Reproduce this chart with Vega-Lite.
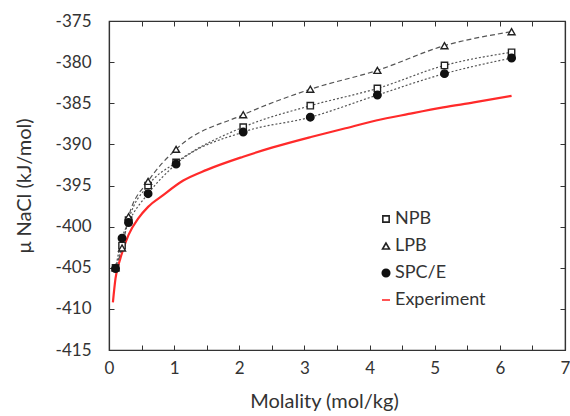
{
  "$schema": "https://vega.github.io/schema/vega-lite/v6.json",
  "width": 456,
  "height": 329,
  "autosize": {"type": "none"},
  "padding": {"left": 109, "top": 21, "right": 5, "bottom": 66},
  "background": "white",
  "config": {
    "font": "Lato",
    "view": {"stroke": "#333", "strokeWidth": 1.2},
    "axis": {
      "grid": false,
      "domainColor": "#333",
      "domainWidth": 1.2,
      "tickColor": "#333",
      "tickWidth": 1,
      "tickSize": -5,
      "labelFlush": false,
      "labelFontSize": 17,
      "labelColor": "#333",
      "titleFontSize": 20,
      "titleFontWeight": "normal",
      "titleColor": "#333"
    },
    "legend": {
      "orient": "none",
      "legendX": 268,
      "legendY": 189,
      "title": null,
      "labelFontSize": 18,
      "labelColor": "#333",
      "labelOffset": 0,
      "rowPadding": 9,
      "symbolStrokeWidth": 1.6,
      "padding": 0
    }
  },
  "datasets": {
    "sim": [
      {"m": 0.1, "mu": -405.0, "series": "NPB"},
      {"m": 0.2, "mu": -402.3, "series": "NPB"},
      {"m": 0.3, "mu": -399.2, "series": "NPB"},
      {"m": 0.6, "mu": -395.0, "series": "NPB"},
      {"m": 1.03, "mu": -392.2, "series": "NPB"},
      {"m": 2.06, "mu": -387.9, "series": "NPB"},
      {"m": 3.09, "mu": -385.3, "series": "NPB"},
      {"m": 4.12, "mu": -383.2, "series": "NPB"},
      {"m": 5.15, "mu": -380.4, "series": "NPB"},
      {"m": 6.18, "mu": -378.8, "series": "NPB"},
      {"m": 0.1, "mu": -405.0, "series": "LPB"},
      {"m": 0.2, "mu": -402.6, "series": "LPB"},
      {"m": 0.3, "mu": -398.8, "series": "LPB"},
      {"m": 0.6, "mu": -394.5, "series": "LPB"},
      {"m": 1.03, "mu": -390.6, "series": "LPB"},
      {"m": 2.06, "mu": -386.4, "series": "LPB"},
      {"m": 3.09, "mu": -383.3, "series": "LPB"},
      {"m": 4.12, "mu": -381.0, "series": "LPB"},
      {"m": 5.15, "mu": -378.0, "series": "LPB"},
      {"m": 6.18, "mu": -376.3, "series": "LPB"},
      {"m": 0.1, "mu": -405.1, "series": "SPC/E"},
      {"m": 0.2, "mu": -401.4, "series": "SPC/E"},
      {"m": 0.3, "mu": -399.5, "series": "SPC/E"},
      {"m": 0.6, "mu": -396.0, "series": "SPC/E"},
      {"m": 1.03, "mu": -392.4, "series": "SPC/E"},
      {"m": 2.06, "mu": -388.5, "series": "SPC/E"},
      {"m": 3.09, "mu": -386.7, "series": "SPC/E"},
      {"m": 4.12, "mu": -384.0, "series": "SPC/E"},
      {"m": 5.15, "mu": -381.4, "series": "SPC/E"},
      {"m": 6.18, "mu": -379.5, "series": "SPC/E"}
    ],
    "exp": [
      {"m": 0.06, "mu": -409.2, "series": "Experiment"},
      {"m": 0.1, "mu": -406.3, "series": "Experiment"},
      {"m": 0.17, "mu": -404.0, "series": "Experiment"},
      {"m": 0.3, "mu": -401.0, "series": "Experiment"},
      {"m": 0.45, "mu": -399.0, "series": "Experiment"},
      {"m": 0.6, "mu": -397.6, "series": "Experiment"},
      {"m": 0.81, "mu": -396.3, "series": "Experiment"},
      {"m": 1.14, "mu": -394.4, "series": "Experiment"},
      {"m": 1.5, "mu": -393.1, "series": "Experiment"},
      {"m": 2.06, "mu": -391.5, "series": "Experiment"},
      {"m": 2.5, "mu": -390.4, "series": "Experiment"},
      {"m": 3.1, "mu": -389.1, "series": "Experiment"},
      {"m": 3.6, "mu": -388.1, "series": "Experiment"},
      {"m": 4.1, "mu": -387.1, "series": "Experiment"},
      {"m": 4.6, "mu": -386.3, "series": "Experiment"},
      {"m": 5.13, "mu": -385.5, "series": "Experiment"},
      {"m": 5.6, "mu": -384.9, "series": "Experiment"},
      {"m": 6.18, "mu": -384.1, "series": "Experiment"}
    ]
  },
  "resolve": {"axis": {"x": "independent", "y": "independent"}},
  "layer": [
    {
      "data": {"name": "exp"},
      "mark": {"type": "line", "strokeWidth": 2.2, "interpolate": "monotone"},
      "encoding": {
        "x": {
          "field": "m", "type": "quantitative",
          "scale": {"domain": [0, 7], "nice": false, "zero": false, "padding": 0},
          "axis": {
            "orient": "bottom",
            "values": [0, 0.5, 1, 1.5, 2, 2.5, 3, 3.5, 4, 4.5, 5, 5.5, 6, 6.5, 7],
            "labelExpr": "datum.value % 1 === 0 ? format(datum.value, 'd') : ''",
            "labelPadding": 15,
            "title": "Molality (mol/kg)",
            "titlePadding": 15,
            "titleX": 215
          }
        },
        "y": {
          "field": "mu", "type": "quantitative",
          "scale": {"domain": [-415, -375], "nice": false, "zero": false, "padding": 0},
          "axis": {
            "orient": "left",
            "values": [-415, -410, -405, -400, -395, -390, -385, -380, -375],
            "labelExpr": "'-' + format(abs(datum.value), 'd')",
            "labelPadding": 23,
            "title": "μ NaCl (kJ/mol)",
            "titlePadding": 21
          }
        },
        "stroke": {
          "field": "series", "type": "nominal",
          "scale": {"domain": ["NPB", "LPB", "SPC/E", "Experiment"], "range": ["#222", "#222", "#111", "#ff2a2a"]}
        }
      }
    },
    {
      "data": {"name": "sim"},
      "transform": [{"filter": "datum.series === 'LPB'"}],
      "mark": {"type": "line", "stroke": "#555", "strokeWidth": 1.2, "strokeDash": [5, 3], "interpolate": "monotone"},
      "encoding": {
        "x": {"field": "m", "type": "quantitative", "scale": {"domain": [0, 7], "nice": false, "zero": false, "padding": 0}, "axis": null},
        "y": {"field": "mu", "type": "quantitative", "scale": {"domain": [-415, -375], "nice": false, "zero": false, "padding": 0}, "axis": null}
      }
    },
    {
      "data": {"name": "sim"},
      "transform": [{"filter": "datum.series !== 'LPB'"}],
      "mark": {"type": "line", "stroke": "#555", "strokeWidth": 1.2, "strokeDash": [2, 2], "interpolate": "monotone"},
      "encoding": {
        "x": {"field": "m", "type": "quantitative", "scale": {"domain": [0, 7], "nice": false, "zero": false, "padding": 0}, "axis": null},
        "y": {"field": "mu", "type": "quantitative", "scale": {"domain": [-415, -375], "nice": false, "zero": false, "padding": 0}, "axis": null},
        "detail": {"field": "series", "type": "nominal"}
      }
    },
    {
      "data": {"name": "sim"},
      "mark": {"type": "point", "strokeWidth": 1.4, "opacity": 1},
      "encoding": {
        "x": {
          "field": "m", "type": "quantitative",
          "scale": {"domain": [0, 7], "nice": false, "zero": false, "padding": 0},
          "axis": {
            "orient": "top",
            "values": [0, 0.5, 1, 1.5, 2, 2.5, 3, 3.5, 4, 4.5, 5, 5.5, 6, 6.5, 7],
            "labels": false,
            "title": null
          }
        },
        "y": {
          "field": "mu", "type": "quantitative",
          "scale": {"domain": [-415, -375], "nice": false, "zero": false, "padding": 0},
          "axis": {
            "orient": "right",
            "values": [-415, -410, -405, -400, -395, -390, -385, -380, -375],
            "labels": false,
            "title": null
          }
        },
        "stroke": {
          "field": "series", "type": "nominal",
          "scale": {"domain": ["NPB", "LPB", "SPC/E", "Experiment"], "range": ["#222", "#222", "#111", "#ff2a2a"]}
        },
        "shape": {
          "field": "series", "type": "nominal",
          "scale": {"domain": ["NPB", "LPB", "SPC/E", "Experiment"], "range": ["square", "triangle-up", "circle", "stroke"]}
        },
        "fill": {
          "field": "series", "type": "nominal",
          "scale": {"domain": ["NPB", "LPB", "SPC/E", "Experiment"], "range": ["white", "white", "#111", "transparent"]}
        },
        "size": {
          "field": "series", "type": "nominal",
          "scale": {"domain": ["NPB", "LPB", "SPC/E", "Experiment"], "range": [40, 64, 48, 170]}
        }
      }
    }
  ]
}
